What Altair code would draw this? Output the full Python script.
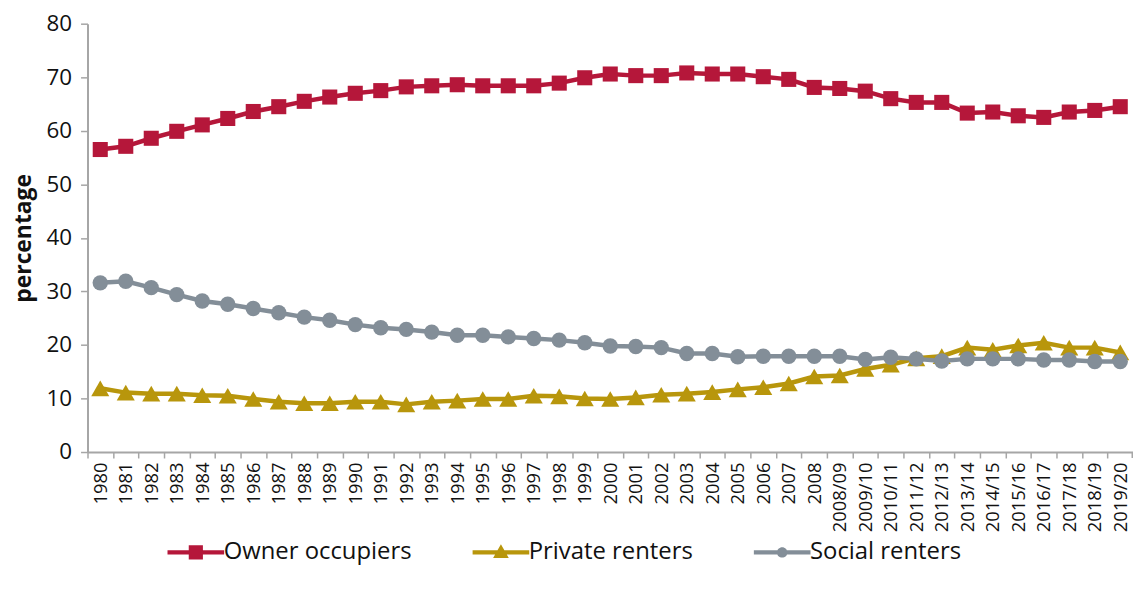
import altair as alt
import pandas as pd

years = [str(y) for y in range(1980, 2009)] + [
    "2008/09", "2009/10", "2010/11", "2011/12", "2012/13", "2013/14",
    "2014/15", "2015/16", "2016/17", "2017/18", "2018/19", "2019/20",
]

owner = [56.5, 57.1, 58.6, 59.9, 61.1, 62.3, 63.6, 64.5, 65.5, 66.3,
         67.0, 67.5, 68.2, 68.4, 68.6, 68.4, 68.4, 68.4, 68.9, 69.9,
         70.6, 70.3, 70.3, 70.8, 70.6, 70.6, 70.1, 69.6, 68.1,
         67.9, 67.4, 66.0, 65.3, 65.3, 63.3, 63.5, 62.8, 62.5, 63.5, 63.8, 64.5]

private = [11.9, 11.1, 10.9, 10.9, 10.6, 10.5, 9.9, 9.4, 9.1, 9.1,
           9.4, 9.4, 8.9, 9.4, 9.6, 9.9, 9.9, 10.5, 10.4, 10.0,
           9.9, 10.2, 10.7, 10.9, 11.2, 11.7, 12.1, 12.8, 14.1,
           14.3, 15.5, 16.3, 17.5, 17.9, 19.5, 19.1, 19.9, 20.4, 19.5, 19.5, 18.6]

social = [31.6, 31.9, 30.7, 29.4, 28.2, 27.6, 26.8, 26.0, 25.2, 24.6,
          23.8, 23.2, 22.9, 22.4, 21.8, 21.8, 21.5, 21.2, 20.9, 20.4,
          19.8, 19.7, 19.5, 18.4, 18.4, 17.8, 17.9, 17.9, 17.9,
          17.9, 17.3, 17.7, 17.4, 17.0, 17.4, 17.4, 17.4, 17.2, 17.2, 16.9, 16.9]

series_names = ["Owner occupiers", "Private renters", "Social renters"]
series_colors = ["#B5173A", "#B8960C", "#838E98"]
series_shapes = ["square", "triangle-up", "circle"]

rows = []
for name, vals in zip(series_names, [owner, private, social]):
    for yr, v in zip(years, vals):
        rows.append({"year": yr, "value": v, "series": name})
df = pd.DataFrame(rows)

W = 1052
H = 431
step = W / len(years)

FONT = "Open Sans"
TXT = "#111111"
AXC = "#A6A6A6"

x_enc = alt.X(
    "year:N",
    sort=years,
    scale=alt.Scale(type="point", padding=0.5, domain=years),
    axis=alt.Axis(
        title=None,
        labelAngle=270,
        labelAlign="right",
        labelBaseline="middle",
        labelFontSize=18.5,
        labelFont=FONT,
        labelColor=TXT,
        labelPadding=4,
        tickOffset=-step / 2,
        labelOffset=step / 2,
        domainColor=AXC,
        domainWidth=2,
        tickColor=AXC,
        tickWidth=1.5,
        tickSize=6,
        grid=False,
        labelOverlap=False,
    ),
)
y_enc = alt.Y(
    "value:Q",
    scale=alt.Scale(domain=[0, 80], nice=False),
    axis=alt.Axis(
        title="percentage",
        titleFont=FONT,
        titleFontSize=23,
        titleFontWeight="bold",
        titleColor=TXT,
        titlePadding=11,
        values=list(range(0, 81, 10)),
        labelFont=FONT,
        labelFontSize=22.5,
        labelColor=TXT,
        labelPadding=9,
        domainColor=AXC,
        domainWidth=2,
        tickColor=AXC,
        tickWidth=1.5,
        tickSize=7,
        grid=False,
    ),
)

base = alt.Chart(df)
layers = []
sizes = {"square": 230, "triangle-up": 330, "circle": 240}
for name, col, shp in zip(series_names, series_colors, series_shapes):
    sub = base.transform_filter(alt.datum.series == name)
    layers.append(sub.mark_line(strokeWidth=4.5, color=col).encode(x=x_enc, y=y_enc))
    layers.append(
        sub.mark_point(filled=True, shape=shp, size=sizes[shp], color=col, opacity=1, strokeWidth=0)
        .encode(x=x_enc, y=y_enc)
    )

# closing tick at the right end of the category axis
end_tick = alt.Chart(pd.DataFrame({"k": [0]})).mark_rule(color=AXC, strokeWidth=1.5).encode(
    x=alt.value(W - 0.75), y=alt.value(H), y2=alt.value(H + 6)
)

# legend symbols: line + marker
line_part = "M-3.8,-0.28H3.8V0.28H-3.8Z"
sq = "M-0.95,-0.95H0.95V0.95H-0.95Z"
tri = "M0,-1.1L1.05,0.75L-1.05,0.75Z"
circ = "M-0.7,0A0.7,0.7 0 1,1 0.7,0A0.7,0.7 0 1,1 -0.7,0Z"
legend_shapes = [line_part + sq, line_part + tri, line_part + circ]

legend_props = dict(
    title=None,
    orient="none",
    direction="horizontal",
    legendX=97,
    legendY=520,
    symbolSize=225,
    symbolOpacity=1,
    symbolStrokeWidth=0,
    labelFont=FONT,
    labelFontSize=24,
    labelColor=TXT,
    labelOffset=16,
    columnPadding=60,
    labelLimit=300,
)

legend_layer = base.mark_point(filled=True, opacity=0).encode(
    x=x_enc,
    y=y_enc,
    color=alt.Color(
        "series:N",
        scale=alt.Scale(domain=series_names, range=series_colors),
        legend=alt.Legend(**legend_props),
    ),
    shape=alt.Shape(
        "series:N",
        scale=alt.Scale(domain=series_names, range=legend_shapes),
        legend=alt.Legend(**legend_props),
    ),
)

chart = (
    alt.layer(*layers, end_tick, legend_layer)
    .properties(
        width=W,
        height=H,
        autosize=alt.AutoSizeParams(type="none"),
        padding={"left": 80, "top": 14, "right": 0, "bottom": 130},
        background="white",
    )
    .configure_view(stroke=None)
)

chart.save("out.html", embed_options={"renderer": "svg", "actions": False})
